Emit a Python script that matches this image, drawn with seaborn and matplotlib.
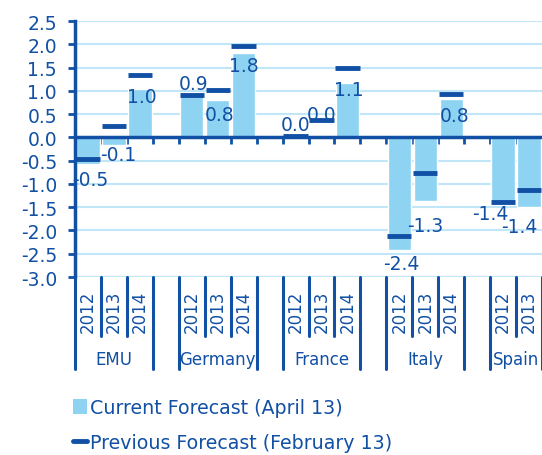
import numpy as np
import pandas as pd
import matplotlib
matplotlib.use("Agg")
import matplotlib.pyplot as plt
import matplotlib.transforms as mtransforms
from matplotlib.patches import Patch
from matplotlib.lines import Line2D
import seaborn as sns

# datos
countries = ["EMU", "Germany", "France", "Italy", "Spain"]
years = ["2012", "2013", "2014"]
n_years = [3, 3, 3, 3, 2]  # Spain 2014 queda fuera de la imagen
current = [-0.58, -0.16, 1.04, 0.95, 0.80, 1.81, 0.0, 0.03, 1.17, -2.43, -1.37, 0.82, -1.42, -1.49]
previous = [-0.46, 0.25, 1.34, 0.91, 1.02, 1.96, 0.04, 0.37, 1.49, -2.11, -0.76, 0.93, -1.39, -1.14]
value_labels = ["-0.5", "-0.1", "1.0", "0.9", "0.8", "1.8", "0.0", "0.0", "1.1",
                "-2.4", "-1.3", "0.8", "-1.4", "-1.4"]
# desplazamiento de cada etiqueta (pixeles) respecto al extremo de la barra
label_offsets = [(2, -15), (4, -10), (2, -8), (2, 10), (2, -14), (0, -12), (0, 13),
                 (0, 21), (1, -7), (2, -13), (0, -24), (3, -16), (-13, -10), (-10, -20)]

DARK = "#1150a4"
LIGHT = "#8fd3f2"
GRID = "#c0e6f8"

rows = []
for gi, c in enumerate(countries):
    for yi in range(n_years[gi]):
        rows.append({"country": c, "year": years[yi], "pos": gi * 4 + yi})
df = pd.DataFrame(rows)
df["current"] = current
df["previous"] = previous

sns.set_theme(style="white")
plt.rcParams["font.family"] = ["DejaVu Sans"]

W, H = 542, 456
fig = plt.figure(figsize=(W / 100, H / 100), dpi=100)
ax = fig.add_axes([75 / W, 1 - 278 / H, (W - 75) / W, 256 / H])

sns.barplot(data=df, x="pos", y="current", native_scale=True, width=0.9,
            color=LIGHT, saturation=1, errorbar=None, ax=ax, zorder=2)
ax.hlines(df["previous"], df["pos"] - 0.47, df["pos"] + 0.47, color=DARK, lw=3.5, zorder=5)

ax.set_xlim(-0.5, 17.5)
ax.set_ylim(-3, 2.5)
yt = np.arange(-3, 2.51, 0.5)
ax.set_yticks(yt)
ax.set_yticklabels([f"{v:.1f}" for v in yt], fontsize=13.5, color=DARK)
ax.yaxis.grid(True, color=GRID, lw=1.5)
ax.set_axisbelow(True)
ax.set_xlabel("")
ax.set_ylabel("")

for s in ["top", "right"]:
    ax.spines[s].set_visible(False)
ax.spines["bottom"].set_position(("data", 0))
ax.spines["bottom"].set_color(DARK)
ax.spines["bottom"].set_linewidth(2.5)
ax.spines["bottom"].set_zorder(4)
ax.spines["left"].set_color(DARK)
ax.spines["left"].set_linewidth(2.5)

bounds = sorted(set(list(df["pos"] - 0.5) + list(df["pos"] + 0.5)))
ax.set_xticks(bounds)
ax.set_xticklabels([])
ax.tick_params(axis="x", direction="out", length=5, width=2, color=DARK, bottom=True)
ax.tick_params(axis="y", direction="out", length=5, width=2, color=DARK, pad=8, left=True)

# etiquetas de valores
for i, r in df.iterrows():
    dx, dy = label_offsets[i]
    ax.annotate(value_labels[i], xy=(r["pos"], r["current"]), xytext=(dx, dy),
                textcoords="offset pixels", ha="center", va="center",
                fontsize=13.5, color=DARK, zorder=3)

# eje de categorias debajo
trans = mtransforms.blended_transform_factory(ax.transData, ax.transAxes)
for gi, c in enumerate(countries):
    sub = df[df["country"] == c]
    for _, r in sub.iterrows():
        ax.text(r["pos"], -34 / 256, r["year"], rotation=90, ha="center", va="center",
                fontsize=12, color=DARK, transform=trans, clip_on=False)
    for p in sub["pos"].iloc[:-1]:
        ax.plot([p + 0.5, p + 0.5], [0, -59 / 256], color=DARK, lw=2.2,
                transform=trans, clip_on=False)
    for p in [sub["pos"].min() - 0.5, sub["pos"].max() + 0.5]:
        ax.plot([p, p], [0, -92 / 256], color=DARK, lw=2.2,
                transform=trans, clip_on=False)
    ax.text(sub["pos"].mean(), -82 / 256, c, ha="center", va="center",
            fontsize=12, color=DARK, transform=trans, clip_on=False)

handles = [Patch(facecolor=LIGHT, edgecolor="none"),
           Line2D([0], [0], color=DARK, lw=3.5)]
leg = fig.legend(handles, ["Current Forecast (April 13)", "Previous Forecast (February 13)"],
                 loc="upper left", bbox_to_anchor=(73 / W, 1 - 399 / H), frameon=False,
                 fontsize=13.7, handlelength=0.75, handleheight=0.8, handletextpad=0.15,
                 labelspacing=0.85, borderpad=0, borderaxespad=0)
for t in leg.get_texts():
    t.set_color(DARK)

fig.savefig("out.png", dpi=100)
